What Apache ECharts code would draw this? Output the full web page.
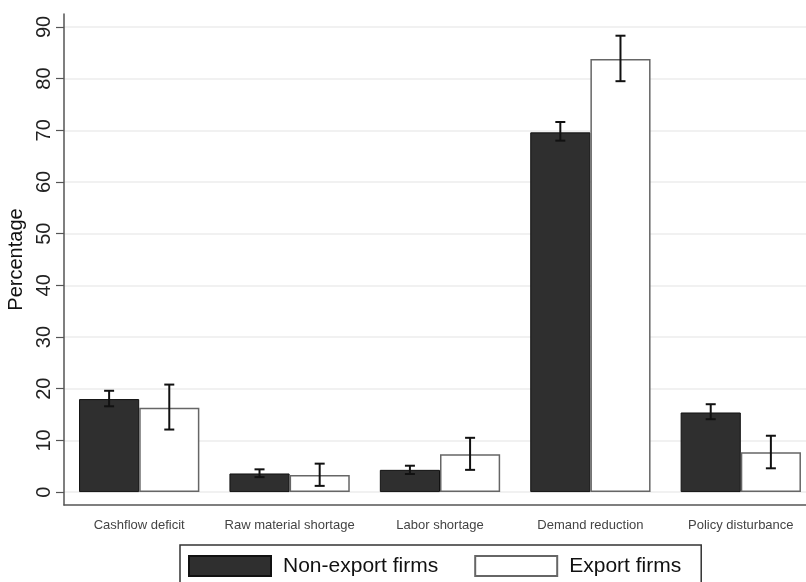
<!DOCTYPE html>
<html>
<head>
<meta charset="utf-8">
<script src="https://cdn.jsdelivr.net/npm/echarts@6/dist/echarts.min.js"></script>
<style>html,body{margin:0;padding:0;background:#fff}#c{width:806px;height:582px}</style>
</head>
<body>
<div id="c"></div>
<script>
const categories = ['Cashflow deficit', 'Raw material shortage', 'Labor shortage', 'Demand reduction', 'Policy disturbance'];
const nonExport = [18.0, 3.6, 4.3, 69.6, 15.4];
const nonExportLow = [16.6, 2.9, 3.5, 68.0, 14.1];
const nonExportHigh = [19.6, 4.4, 5.1, 71.6, 17.0];
const exportFirms = [16.3, 3.3, 7.3, 83.8, 7.7];
const exportLow = [12.1, 1.2, 4.3, 79.5, 4.6];
const exportHigh = [20.8, 5.5, 10.5, 88.3, 10.9];
const yTicks = [0, 10, 20, 30, 40, 50, 60, 70, 80, 90];

const FONT = '"Liberation Sans", Arial, Helvetica, sans-serif';

function errSeries(low, high, off) {
  return {
    type: 'custom',
    z: 5,
    silent: true,
    data: low.map((l, i) => [i, l, high[i]]),
    encode: { x: 0, y: [1, 2] },
    renderItem: function (params, api) {
      const i = api.value(0);
      const pH = api.coord([i, api.value(2)]);
      const pL = api.coord([i, api.value(1)]);
      const band = api.size([1, 0])[0];
      const x = pH[0] + off * band;
      const hw = 5;
      const st = { stroke: '#111', lineWidth: 2 };
      return {
        type: 'group',
        children: [
          { type: 'line', shape: { x1: x, y1: pH[1], x2: x, y2: pL[1] }, style: st },
          { type: 'line', shape: { x1: x - hw, y1: pH[1], x2: x + hw, y2: pH[1] }, style: st },
          { type: 'line', shape: { x1: x - hw, y1: pL[1], x2: x + hw, y2: pL[1] }, style: st }
        ]
      };
    }
  };
}

const chart = echarts.init(document.getElementById('c'), null, { renderer: 'canvas' });
chart.setOption({
  animation: false,
  backgroundColor: '#fff',
  textStyle: { fontFamily: FONT },
  grid: { left: 64, top: 14, bottom: 77, width: 752, containLabel: false, outerBoundsMode: 'none' },
  legend: {
    data: ['Non-export firms', 'Export firms'],
    left: 180, top: 545,
    padding: [10, 20, 20, 8],
    icon: 'rect',
    itemWidth: 82, itemHeight: 20, itemGap: 36,
    borderColor: '#333', borderWidth: 1.5, backgroundColor: '#fff',
    textStyle: { fontSize: 21, color: '#111', fontFamily: FONT, padding: [0, 0, 0, 7] }
  },
  xAxis: {
    type: 'category',
    data: categories,
    axisLine: { onZero: false, lineStyle: { color: '#555', width: 1.5 } },
    axisTick: { alignWithLabel: true, length: 8, lineStyle: { color: '#444', width: 1.5 } },
    axisLabel: { interval: 0, fontSize: 13, color: '#444', margin: 14, fontFamily: FONT },
    splitLine: { show: false }
  },
  yAxis: {
    type: 'value',
    min: -2.5, max: 92.5,
    name: 'Percentage',
    nameLocation: 'middle',
    nameGap: 32,
    nameTextStyle: { fontSize: 20, color: '#111', fontFamily: FONT },
    axisLine: { show: true, lineStyle: { color: '#555', width: 1.5 } },
    axisTick: { show: true, length: 8, customValues: yTicks, lineStyle: { color: '#555', width: 1.2 } },
    axisLabel: { customValues: yTicks, rotate: 90, fontSize: 20, color: '#222', margin: 10, fontFamily: FONT },
    splitLine: { show: true, lineStyle: { color: '#ececec', width: 1.5 } }
  },
  series: [
    {
      name: 'Non-export firms', type: 'bar', data: nonExport,
      barCategoryGap: '20%', barGap: '0%',
      itemStyle: { color: '#2f2f2f', borderColor: '#111', borderWidth: 1 }
    },
    {
      name: 'Export firms', type: 'bar', data: exportFirms,
      barCategoryGap: '20%', barGap: '0%',
      itemStyle: { color: '#ffffff', borderColor: '#666', borderWidth: 1.5 }
    },
    errSeries(nonExportLow, nonExportHigh, -0.2),
    errSeries(exportLow, exportHigh, 0.2)
  ]
});
</script>
</body>
</html>
